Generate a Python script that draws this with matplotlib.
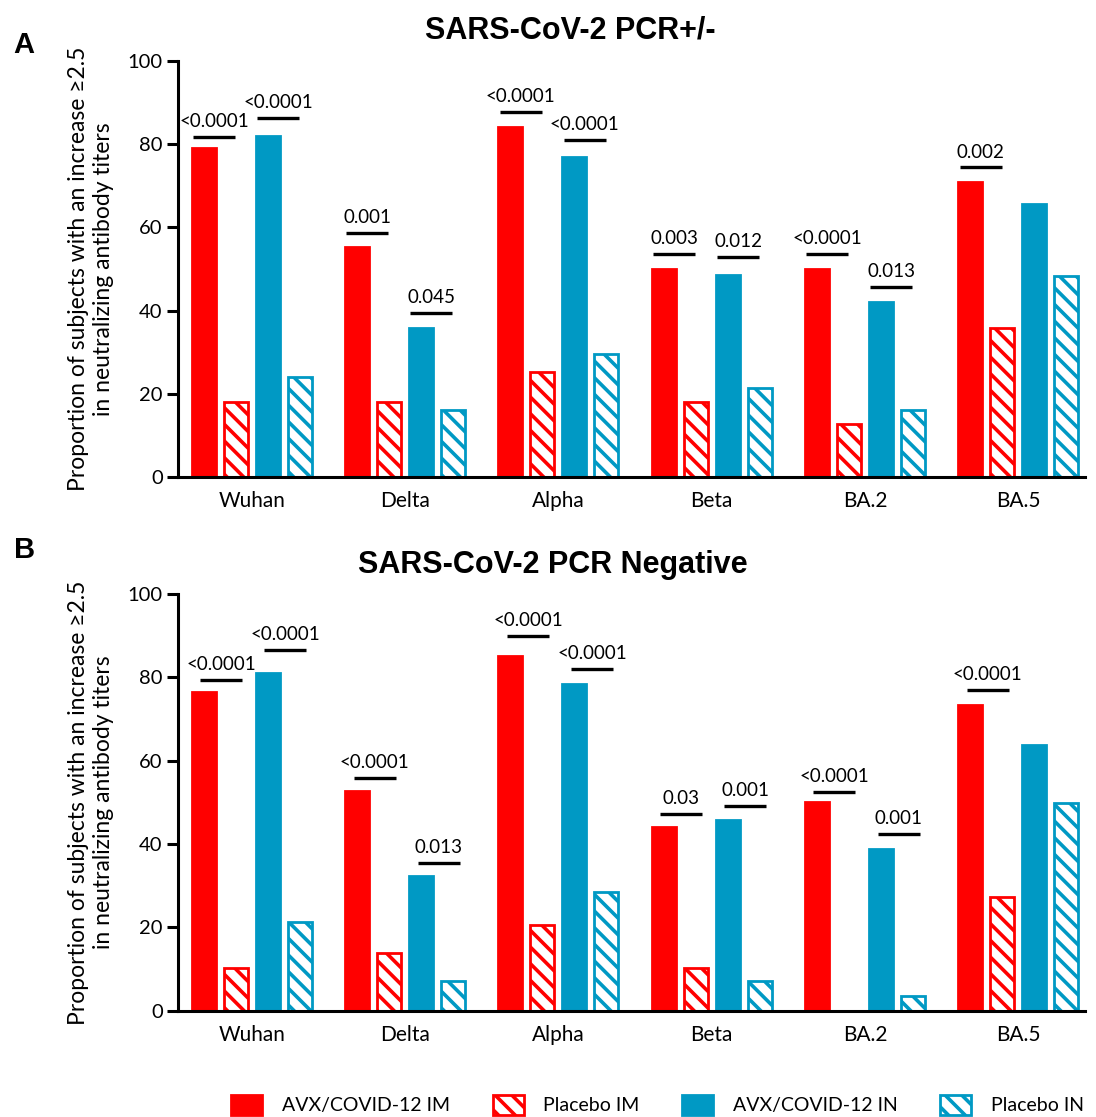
import matplotlib
matplotlib.use('Agg')
import matplotlib.pyplot as plt
import numpy as np
from matplotlib.patches import Patch

variants = ['Wuhan', 'Delta', 'Alpha', 'Beta', 'BA.2', 'BA.5']
series = ['AVX/COVID-12 IM', 'Placebo IM', 'AVX/COVID-12 IN', 'Placebo IN']

# Panel A: SARS-CoV-2 PCR+/-
a_avx_im = [79, 55.2, 84.1, 50, 50, 71]
a_pla_im = [18, 18, 25.3, 18, 12.7, 35.7]
a_avx_in = [82, 35.7, 76.8, 48.5, 42, 65.5]
a_pla_in = [24.1, 16.1, 29.6, 21.3, 16.1, 48.3]

# Panel B: SARS-CoV-2 PCR Negative
b_avx_im = [76.4, 52.8, 85.2, 44, 50, 73.4]
b_pla_im = [10.2, 13.8, 20.6, 10.2, 0, 27.4]
b_avx_in = [81, 32.3, 78.3, 45.8, 38.8, 63.7]
b_pla_in = [21.4, 7, 28.6, 7, 3.4, 49.9]

# p-value annotations (label, bracket height)
a_pvals_im = ['<0.0001', '0.001', '<0.0001', '0.003', '<0.0001', '0.002']
a_pline_im = [81.8, 58.7, 87.8, 53.7, 53.7, 74.4]
a_pvals_in = ['<0.0001', '0.045', '<0.0001', '0.012', '0.013', None]
a_pline_in = [86.3, 39.5, 81.0, 52.8, 45.7, None]

b_pvals_im = ['<0.0001', '<0.0001', '<0.0001', '0.03', '<0.0001', '<0.0001']
b_pline_im = [79.3, 55.8, 90.0, 47.3, 52.6, 77.0]
b_pvals_in = ['<0.0001', '0.013', '<0.0001', '0.001', '0.001', None]
b_pline_in = [86.5, 35.4, 82.0, 49.2, 42.5, None]

RED = '#FF0000'
BLUE = '#0099C4'
FONT = ['Lato', 'DejaVu Sans']
HATCH = '\\\\'

plt.rcParams['hatch.linewidth'] = 2.6
plt.rcParams['font.family'] = FONT

fig = plt.figure(figsize=(10.96, 11.17), dpi=100)

pitch = 0.209
width = 0.157
offsets = np.array([-1.5, -0.5, 0.5, 1.5]) * pitch


def draw_panel(ax, vals, pv_im, pl_im, pv_in, pl_in, shift):
    x = np.arange(len(variants))
    styles = [dict(color=RED, edgecolor=RED),
              dict(color='white', edgecolor=RED, hatch=HATCH),
              dict(color=BLUE, edgecolor=BLUE),
              dict(color='white', edgecolor=BLUE, hatch=HATCH)]
    for k, (v, st) in enumerate(zip(vals, styles)):
        ax.bar(x + offsets[k], v, width=width, linewidth=2, zorder=2, **st)
    lw_half = 0.137
    for i in range(len(variants)):
        for lab, h, k in ((pv_im[i], pl_im[i], 0), (pv_in[i], pl_in[i], 2)):
            if lab is None:
                continue
            cx = x[i] + offsets[k] + shift
            ax.plot([cx - lw_half, cx + lw_half], [h, h], color='black', lw=2.4,
                    solid_capstyle='butt', zorder=3)
            ax.annotate(lab, (cx, h), xytext=(0, 5), textcoords='offset points',
                        ha='center', va='bottom', fontsize=13.5, family=FONT)
    ax.set_xlim(-0.481, 5.436)
    ax.set_ylim(0, 100)
    ax.set_yticks([0, 20, 40, 60, 80, 100])
    ax.set_xticks(x)
    ax.set_xticklabels(variants, fontsize=15)
    ax.tick_params(axis='x', length=0, pad=10)
    ax.tick_params(axis='y', length=8, width=2.2, labelsize=14.5, pad=3)
    for s in ('top', 'right'):
        ax.spines[s].set_visible(False)
    for s in ('left', 'bottom'):
        ax.spines[s].set_linewidth(2.2)
    ax.set_ylabel('Proportion of subjects with an increase \u22652.5\nin neutralizing antibody titers',
                  fontsize=16.5, labelpad=10, linespacing=1.2)


ax1 = fig.add_axes([0.1624, 0.5730, 0.8276, 0.3724])
draw_panel(ax1, [a_avx_im, a_pla_im, a_avx_in, a_pla_in],
           a_pvals_im, a_pline_im, a_pvals_in, a_pline_in, 0.068)
ax2 = fig.add_axes([0.1624, 0.0952, 0.8276, 0.3730])
draw_panel(ax2, [b_avx_im, b_pla_im, b_avx_in, b_pla_in],
           b_pvals_im, b_pline_im, b_pvals_in, b_pline_in, 0.115)

fig.text(0.52, 0.973, 'SARS-CoV-2 PCR+/-', ha='center', va='center',
         fontsize=22, fontweight='bold', family='Liberation Sans')
fig.text(0.504, 0.494, 'SARS-CoV-2 PCR Negative', ha='center', va='center',
         fontsize=22, fontweight='bold', family='Liberation Sans')
fig.text(0.022, 0.960, 'A', ha='center', va='center', fontsize=21,
         fontweight='bold', family='Liberation Sans')
fig.text(0.022, 0.508, 'B', ha='center', va='center', fontsize=21,
         fontweight='bold', family='Liberation Sans')

handles = [Patch(facecolor=RED, edgecolor=RED, linewidth=2),
           Patch(facecolor='white', edgecolor=RED, hatch=HATCH, linewidth=2),
           Patch(facecolor=BLUE, edgecolor=BLUE, linewidth=2),
           Patch(facecolor='white', edgecolor=BLUE, hatch=HATCH, linewidth=2)]
fig.legend(handles, series, loc='center', bbox_to_anchor=(0.6, 0.011), ncol=4,
           frameon=False, fontsize=14, handlelength=1.6, handleheight=1.2,
           columnspacing=2.2, handletextpad=1.0)

fig.savefig('out.png', dpi=100)
